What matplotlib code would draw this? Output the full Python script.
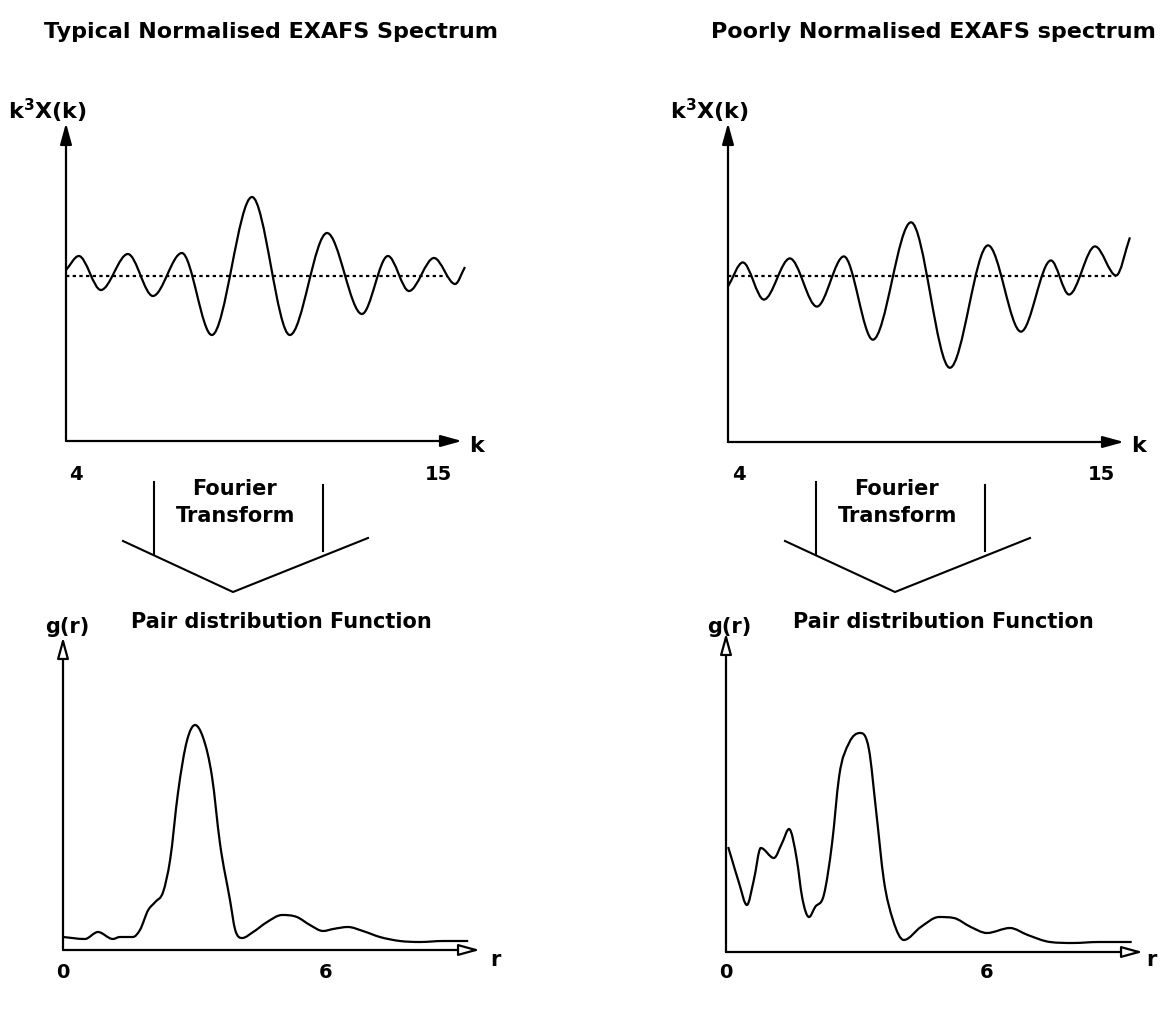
# -*- coding: utf-8 -*-
# EXAFS 示意图：归一化良好 / 归一化不良 的谱及其傅里叶变换后的径向分布函数
import matplotlib
matplotlib.use('Agg')
import matplotlib.pyplot as plt
import numpy as np
from matplotlib.path import Path
from matplotlib.patches import PathPatch
from matplotlib.transforms import blended_transform_factory

# ---- 数据（从原图读取的极值点和拐点） ----
k_typical = [3.70, 4.09, 4.76, 5.58, 6.34, 7.22, 8.13, 9.35, 10.50,
             11.63, 12.69, 13.48, 14.12, 14.88, 15.52, 15.82]
chi_typical = [0.12, 0.40, -0.28, 0.44, -0.40, 0.46, -1.18, 1.58, -1.18,
               0.86, -0.76, 0.40, -0.30, 0.36, -0.16, 0.18]

k_poor = [3.67, 4.12, 4.76, 5.55, 6.37, 7.19, 8.07, 9.23, 10.41,
          11.57, 12.57, 13.48, 14.03, 14.82, 15.46, 15.88]
chi_poor = [-0.20, 0.28, -0.46, 0.36, -0.60, 0.40, -1.26, 1.08, -1.82,
            0.62, -1.10, 0.32, -0.36, 0.60, 0.02, 0.78]

baseline_typical = [3.70, 15.31]   # 虚线范围 (k)
baseline_poor = [3.67, 15.46]

r_typical = [0.00, 0.50, 0.80, 1.14, 1.30, 1.60, 1.76, 1.95, 2.11, 2.29,
             2.45, 2.63, 2.84, 3.02, 3.20, 3.41, 3.59, 3.82, 3.94, 4.10,
             4.35, 4.67, 5.01, 5.35, 5.65, 5.95, 6.18, 6.52, 6.86, 7.25,
             7.71, 8.17, 8.70, 9.27]
g_typical = [0.26, 0.22, 0.36, 0.22, 0.26, 0.26, 0.40, 0.80, 0.96, 1.16,
             1.80, 3.14, 4.20, 4.50, 4.26, 3.46, 2.14, 1.00, 0.40, 0.24,
             0.36, 0.56, 0.70, 0.66, 0.50, 0.38, 0.42, 0.46, 0.38, 0.26,
             0.18, 0.16, 0.18, 0.18]

r_poor = [0.05, 0.14, 0.30, 0.48, 0.64, 0.80, 1.10, 1.29, 1.45, 1.63,
          1.75, 1.91, 2.05, 2.25, 2.44, 2.60, 2.83, 3.08, 3.29, 3.45,
          3.63, 3.84, 4.09, 4.48, 4.90, 5.24, 5.63, 6.00, 6.53, 6.94,
          7.45, 7.98, 8.57, 9.33]
g_poor = [2.10, 1.84, 1.38, 0.94, 1.44, 2.08, 1.88, 2.18, 2.46, 1.84,
          1.10, 0.70, 0.90, 1.14, 2.18, 3.50, 4.18, 4.38, 4.04, 2.84,
          1.44, 0.64, 0.24, 0.50, 0.70, 0.68, 0.50, 0.38, 0.48, 0.34,
          0.20, 0.18, 0.20, 0.20]

k_ticks = [4, 15]
r_ticks = [0, 6]

titles = ['Typical Normalised EXAFS Spectrum', 'Poorly Normalised EXAFS spectrum']

plt.rcParams['font.family'] = ['DejaVu Sans']
plt.rcParams['font.weight'] = 'bold'

W, H = 1160, 1033
fig = plt.figure(figsize=(W / 100, H / 100), dpi=100)
fig.patch.set_facecolor('white')

# 背景坐标系，按像素放置文字和箭头
bg = fig.add_axes([0, 0, 1, 1])
bg.set_xlim(0, W)
bg.set_ylim(H, 0)
bg.axis('off')


def add_panel(x0, x1, ytop, ybot, xlim, ylim):
    ax = fig.add_axes([x0 / W, 1 - ybot / H, (x1 - x0) / W, (ybot - ytop) / H])
    ax.set_xlim(*xlim)
    ax.set_ylim(*ylim)
    ax.axis('off')
    return ax


def smooth_path(x, y):
    # 通过读取的点画平滑曲线（三次 Bezier，极值处切线水平）
    x = np.asarray(x, float)
    y = np.asarray(y, float)
    n = len(x)
    m = np.zeros(n)
    for i in range(n):
        if i == 0:
            m[i] = (y[1] - y[0]) / (x[1] - x[0])
        elif i == n - 1:
            m[i] = (y[-1] - y[-2]) / (x[-1] - x[-2])
        else:
            h0, h1 = x[i] - x[i - 1], x[i + 1] - x[i]
            d0, d1 = (y[i] - y[i - 1]) / h0, (y[i + 1] - y[i]) / h1
            if d0 * d1 <= 0:
                m[i] = 0
            else:
                m[i] = (h1 * d0 + h0 * d1) / (h0 + h1)
                lim = 3 * min(abs(d0), abs(d1))
                m[i] = np.sign(m[i]) * min(abs(m[i]), lim)
    verts = [(x[0], y[0])]
    codes = [Path.MOVETO]
    for i in range(n - 1):
        h = (x[i + 1] - x[i]) / 3
        verts += [(x[i] + h, y[i] + m[i] * h),
                  (x[i + 1] - h, y[i + 1] - m[i + 1] * h),
                  (x[i + 1], y[i + 1])]
        codes += [Path.CURVE4] * 3
    return Path(verts, codes)


def axis_arrows(ax, filled=True):
    style = '-|>,head_length=0.8,head_width=0.22'
    for end in [(1, 0), (0, 1)]:
        ax.annotate('', xy=end, xytext=(0, 0), xycoords='axes fraction',
                    annotation_clip=False,
                    arrowprops=dict(arrowstyle=style, lw=1.6, ec='black',
                                    fc='black' if filled else 'white',
                                    mutation_scale=16, shrinkA=0, shrinkB=0))


def draw_curve(ax, x, y):
    ax.add_patch(PathPatch(smooth_path(x, y), fill=False, ec='black',
                           lw=1.6, clip_on=False))


# ---- 上方两个 EXAFS 谱 ----
ax1 = add_panel(66, 462, 123, 441, (3.70, 15.73), (-3.30, 3.06))
ax2 = add_panel(728, 1124, 123, 442, (3.67, 15.70), (-3.30, 3.06))
for ax, k, chi, base in [(ax1, k_typical, chi_typical, baseline_typical),
                         (ax2, k_poor, chi_poor, baseline_poor)]:
    axis_arrows(ax, filled=True)
    draw_curve(ax, k, chi)
    ax.plot(base, [0, 0], ls=(0, (1.5, 1.5)), lw=1.6, color='black')
    tr = blended_transform_factory(ax.transData, bg.transData)
    for t in k_ticks:
        ax.text(t, 474, str(t), transform=tr, ha='center', va='center', fontsize=14)

# ---- 下方两个径向分布函数 ----
ax3 = add_panel(63, 480, 637, 950, (0, 9.54), (0, 6.26))
ax4 = add_panel(726, 1143, 633, 952, (0, 9.59), (0, 6.38))
for ax, r, g in [(ax3, r_typical, g_typical), (ax4, r_poor, g_poor)]:
    axis_arrows(ax, filled=False)
    draw_curve(ax, r, g)
    tr = blended_transform_factory(ax.transData, bg.transData)
    for t in r_ticks:
        ax.text(t, 973, str(t), transform=tr, ha='center', va='center', fontsize=14)

# ---- 文字和傅里叶变换箭头 ----
for dx, title in zip([0, 662], titles):
    bg.text(271 + dx, 32, title, ha='center', va='center', fontsize=16)
    bg.text(47 + dx, 111, r'k$^{\mathbf{3}}$X(k)', ha='center', va='center', fontsize=16)
    bg.text(469 + dx, 446, 'k', ha='left', va='center', fontsize=16)
    bg.text(234 + dx, 489, 'Fourier', ha='center', va='center', fontsize=15)
    bg.text(236 + dx, 516, 'Transform', ha='center', va='center', fontsize=15)
    bg.plot([154 + dx, 154 + dx], [482, 554], color='black', lw=1.5)
    bg.plot([323 + dx, 323 + dx], [485, 551], color='black', lw=1.5)
    bg.plot([123 + dx, 233 + dx, 368 + dx], [541, 592, 538], color='black', lw=1.5)
    bg.text(67 + dx, 627, 'g(r)', ha='center', va='center', fontsize=15)
    bg.text(281 + dx, 622, 'Pair distribution Function', ha='center', va='center', fontsize=15)
    bg.text(min(490 + dx, 1146), 960, 'r', ha='left', va='center', fontsize=15)

fig.savefig('out.png', dpi=100, facecolor='white')
